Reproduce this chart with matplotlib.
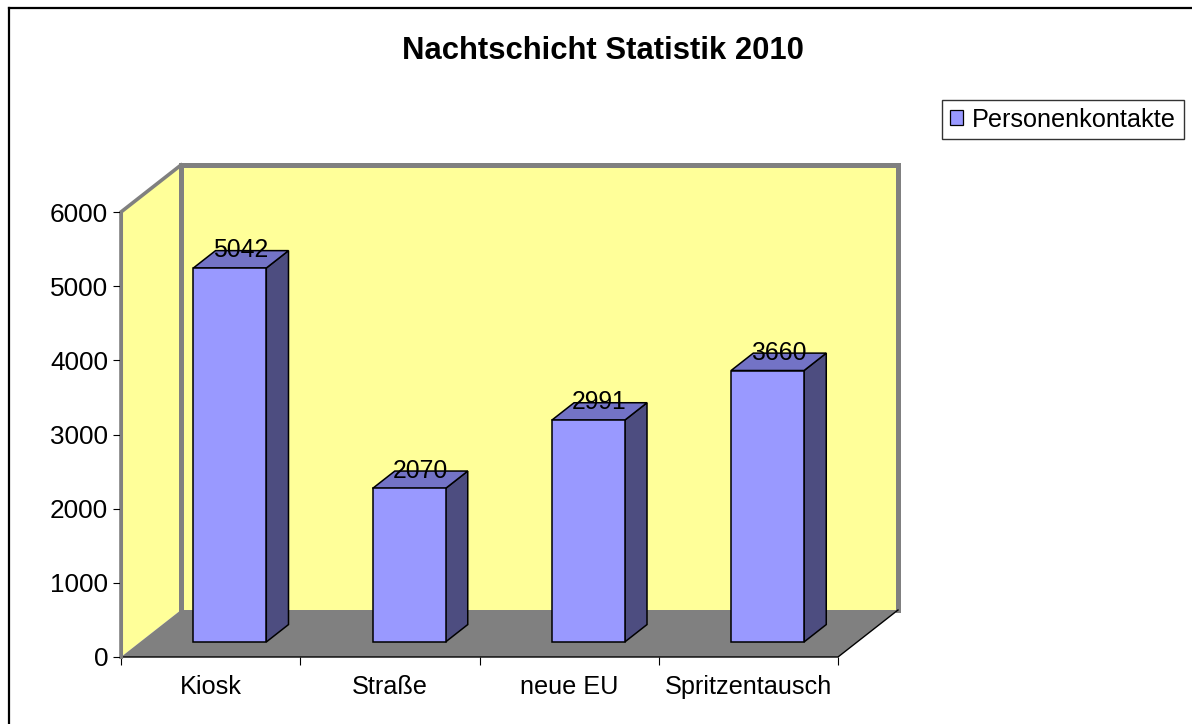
import matplotlib
matplotlib.use("Agg")
import matplotlib.pyplot as plt
from matplotlib.patches import Polygon, Patch
from matplotlib.lines import Line2D

# ---- data ----
categories = ["Kiosk", "Straße", "neue EU", "Spritzentausch"]
values = [5042, 2070, 2991, 3660]
series_name = "Personenkontakte"
title = "Nachtschicht Statistik 2010"
y_ticks = [0, 1000, 2000, 3000, 4000, 5000, 6000]

# ---- style ----
plt.rcParams['font.family'] = ['Liberation Sans', 'DejaVu Sans']
FRONT = "#9999FF"
TOP = "#7373C6"
SIDE = "#4D4D80"
WALL = "#FFFF99"
GRAY = "#808080"
FS = 18.2

W, H, DPI = 11.92, 7.24, 100
fig = plt.figure(figsize=(W, H), dpi=DPI)
fig.patch.set_facecolor("white")

# front plane of the 3D box (pixel layout)
L, R, B, T = 121, 838, 657, 212
ax = fig.add_axes([L / 1192, (724 - B) / 724, (R - L) / 1192, (B - T) / 724])
ax.set_xlim(0, len(categories))
ax.set_ylim(0, y_ticks[-1])
ax.patch.set_alpha(0)
for s in ["top", "right", "left", "bottom"]:
    ax.spines[s].set_visible(False)

# depth vector (pixels) converted to data units
DEPTH_PX = (60, 47)
sx = (R - L) / len(categories)
sy = (B - T) / y_ticks[-1]
ddx = DEPTH_PX[0] / sx
ddy = DEPTH_PX[1] / sy


def P(x, v, d):
    return (x + d * ddx, v + d * ddy)


ymax = y_ticks[-1]
n = len(categories)

# left wall
ax.add_patch(Polygon([P(0, 0, 0), P(0, ymax, 0), P(0, ymax, 1), P(0, 0, 1)],
                     closed=True, facecolor=WALL, edgecolor="none", clip_on=False, zorder=1))
# back wall
ax.add_patch(Polygon([P(0, 0, 1), P(0, ymax, 1), P(n, ymax, 1), P(n, 0, 1)],
                     closed=True, facecolor=WALL, edgecolor="none", clip_on=False, zorder=1))
# back wall border
bx, by = zip(*[P(0, 0, 1), P(0, ymax, 1), P(n, ymax, 1), P(n, 0, 1)])
ax.add_line(Line2D(bx, by, color=GRAY, lw=3.6, solid_joinstyle="miter", clip_on=False, zorder=1.5))
# left wall edges
lx, ly = zip(*[P(0, 0, 0), P(0, ymax, 0), P(0, ymax, 1)])
ax.add_line(Line2D(lx, ly, color=GRAY, lw=2.6, solid_joinstyle="miter", clip_on=False, zorder=1.5))
# floor
ax.add_patch(Polygon([P(0, 0, 0), P(n, 0, 0), P(n, 0, 1), P(0, 0, 1)],
                     closed=True, facecolor=GRAY, edgecolor="none", clip_on=False, zorder=2))
fx, fy = zip(*[P(0, 0, 0), P(n, 0, 0), P(n, 0, 1)])
ax.add_line(Line2D(fx, fy, color="black", lw=1.0, clip_on=False, zorder=2.5))

# bars
bw = 0.407
f0, f1 = 0.32, 0.69
for i, v in enumerate(values):
    x0 = i + 0.5 - bw / 2
    x1 = i + 0.5 + bw / 2
    kw = dict(closed=True, edgecolor="black", lw=1.1, clip_on=False, zorder=3,
              joinstyle="miter")
    ax.add_patch(Polygon([P(x1, 0, f0), P(x1, v, f0), P(x1, v, f1), P(x1, 0, f1)],
                         facecolor=SIDE, **kw))
    ax.add_patch(Polygon([P(x0, v, f0), P(x1, v, f0), P(x1, v, f1), P(x0, v, f1)],
                         facecolor=TOP, **kw))
    ax.add_patch(Polygon([P(x0, 0, f0), P(x1, 0, f0), P(x1, v, f0), P(x0, v, f0)],
                         facecolor=FRONT, **kw))
    fm = (f0 + f1) / 2
    ax.annotate(str(v), xy=P(i + 0.5, v, fm), xytext=(0, 2), textcoords="offset pixels",
                ha="center", va="baseline", fontsize=FS - 0.4, color="black",
                annotation_clip=False, zorder=5)

# axes ticks
ax.set_yticks(y_ticks)
ax.set_yticklabels([str(t) for t in y_ticks])
ax.tick_params(axis="y", direction="out", length=5.8, width=0.8, color="black",
               labelsize=FS + 0.6, pad=3.5)
ax.set_xticks(range(n + 1))
ax.set_xticklabels([""] * (n + 1))
ax.tick_params(axis="x", which="major", direction="out", length=5.8, width=0.8, color="black")
ax.set_xticks([i + 0.5 for i in range(n)], minor=True)
ax.set_xticklabels(categories, minor=True)
ax.tick_params(axis="x", which="minor", length=0, labelsize=FS, pad=13)
# left axis line
ax.add_line(Line2D([0, 0], [0, ymax], color=GRAY, lw=2.2, clip_on=False, zorder=2.6))

# title
fig.text(603 / 1192, 1 - 51 / 724, title, ha="center", va="center",
         fontsize=22.3, fontweight="bold")

# legend
handle = Patch(facecolor=FRONT, edgecolor="black", linewidth=0.9)
leg = fig.legend([handle], [series_name], loc="upper left",
                 bbox_to_anchor=(942 / 1192, 1 - 100 / 724),
                 fontsize=FS, frameon=True, fancybox=False, framealpha=1,
                 edgecolor="#333333", handlelength=0.55, handleheight=0.55,
                 handletextpad=0.35, borderpad=0.3, borderaxespad=0)
leg.get_frame().set_linewidth(1.0)

# outer chart border (top and left edges visible)
fig.add_artist(Line2D([9 / 1192, 1.01], [1 - 8 / 724, 1 - 8 / 724], transform=fig.transFigure,
                      color="black", lw=1.6))
fig.add_artist(Line2D([9 / 1192, 9 / 1192], [1 - 8 / 724, -0.01], transform=fig.transFigure,
                      color="black", lw=1.6))

fig.savefig("out.png", dpi=DPI, facecolor="white")
